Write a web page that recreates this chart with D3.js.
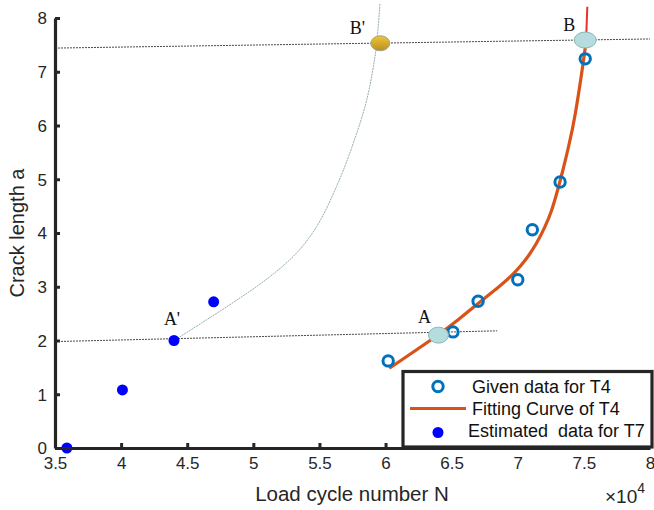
<!DOCTYPE html>
<html><head><meta charset="utf-8">
<script src="https://cdn.jsdelivr.net/npm/d3@7"></script>
<style>body{margin:0;background:#fff}svg{display:block}text{font-family:"Liberation Sans",Arial,Helvetica,sans-serif}</style>
</head><body><svg id="c" width="654" height="510"></svg>
<script>
// ---- data ----
const xTicks = [3.5, 4, 4.5, 5, 5.5, 6, 6.5, 7, 7.5, 8];
const yTicks = [0, 1, 2, 3, 4, 5, 6, 7, 8];
const givenN = [6.02, 6.51, 6.70, 7.00, 7.11, 7.32, 7.51];
const givenA = [1.62, 2.16, 2.73, 3.13, 4.06, 4.95, 7.24];
const fitN = [6.028, 6.20, 6.399, 6.563, 6.714, 6.866, 6.979, 7.068, 7.143, 7.206, 7.257, 7.302, 7.344, 7.382, 7.433, 7.496, 7.516];
const fitA = [1.483, 1.77, 2.102, 2.409, 2.720, 3.010, 3.260, 3.520, 3.805, 4.112, 4.409, 4.800, 5.191, 5.581, 6.140, 7.181, 7.553];
const fitExtN = [7.516, 7.526];
const fitExtA = [7.553, 8.21];
const estN = [3.59, 4.01, 4.40, 4.70];
const estA = [0.0, 1.08, 2.00, 2.72];
const predN = [4.407, 4.874, 5.126, 5.328, 5.479, 5.630, 5.756, 5.857, 5.920, 5.933, 5.958];
const predA = [2.01, 2.75, 3.19, 3.63, 4.12, 4.87, 5.67, 6.47, 7.28, 7.53, 8.27];
const refLowN = [3.5, 6.844];
const refLowA = [1.98, 2.18];
const refHighN = [3.5, 8.0];
const refHighA = [7.44, 7.61];
const pointLabels = ["A'", "A", "B'", "B"];
const pointN = [4.40, 6.40, 5.96, 7.51];
const pointA = [2.00, 2.10, 7.53, 7.59];
const legendLabels = ["Given data for T4", "Fitting Curve of T4", "Estimated  data for T7"];

// ---- drawing ----
const svg = d3.select("#c");
const x = d3.scaleLinear().domain([3.5, 8]).range([55, 650]);
const y = d3.scaleLinear().domain([0, 8]).range([448, 18]);
const axisColor = "#262626";
const zip = (a, b) => a.map((v, i) => [v, b[i]]);
const straight = d3.line().x(d => x(d[0])).y(d => y(d[1]));
const smooth = d3.line().x(d => x(d[0])).y(d => y(d[1])).curve(d3.curveCatmullRom.alpha(0.5));
const basis = d3.line().x(d => x(d[0])).y(d => y(d[1])).curve(d3.curveBasis);

// reference dashed lines
[[refHighN, refHighA], [refLowN, refLowA]].forEach(([n, a]) => {
  svg.append("path").attr("d", straight(zip(n, a)))
    .attr("fill", "none").attr("stroke", "#333").attr("stroke-width", 0.9)
    .attr("stroke-dasharray", "2,1");
});

// predicted T7 curve
svg.append("path").attr("d", smooth(zip(predN, predA)))
  .attr("fill", "none").attr("stroke", "#93aeb2").attr("stroke-width", 1)
  .attr("stroke-dasharray", "2,0.8");

// fitting curve
svg.append("path").attr("d", basis(zip(fitN, fitA)))
  .attr("fill", "none").attr("stroke", "#D95319").attr("stroke-width", 3.2);
svg.append("path").attr("d", straight(zip(fitExtN, fitExtA)))
  .attr("fill", "none").attr("stroke", "#e8322c").attr("stroke-width", 2);

// given data (open circles)
svg.append("g").selectAll("circle").data(zip(givenN, givenA)).join("circle")
  .attr("cx", d => x(d[0])).attr("cy", d => y(d[1])).attr("r", 5.2)
  .attr("fill", "none").attr("stroke", "#0072BD").attr("stroke-width", 3);

// estimated T7 (filled dots)
svg.append("g").selectAll("circle").data(zip(estN, estA)).join("circle")
  .attr("cx", d => x(d[0])).attr("cy", d => y(d[1])).attr("r", 5.5)
  .attr("fill", "#0000FF");

// special points
const defs = svg.append("defs");
const gr = defs.append("linearGradient").attr("id", "gold").attr("x1", 0).attr("y1", 0).attr("x2", 0).attr("y2", 1);
gr.append("stop").attr("offset", "0%").attr("stop-color", "#f2c437");
gr.append("stop").attr("offset", "100%").attr("stop-color", "#b98f22");
const markerStyle = [
  {rx: 4, ry: 4, fill: "#0000FF", stroke: "none"},
  {rx: 10, ry: 8, fill: "#b5dde0", stroke: "#8fb5b8"},
  {rx: 9.5, ry: 7.5, fill: "url(#gold)", stroke: "#9aa58a"},
  {rx: 11, ry: 8, fill: "#b5dde0", stroke: "#8fb5b8"}
];
const labelOff = [[-2, -16], [-14, -12], [-23, -9], [-16, -9]];
pointLabels.forEach((lab, i) => {
  if (i > 0) {
    svg.append("ellipse").attr("cx", x(pointN[i])).attr("cy", y(pointA[i]))
      .attr("rx", markerStyle[i].rx).attr("ry", markerStyle[i].ry)
      .attr("fill", markerStyle[i].fill).attr("stroke", markerStyle[i].stroke).attr("stroke-width", 1);
  }
  svg.append("text").attr("x", x(pointN[i]) + labelOff[i][0]).attr("y", y(pointA[i]) + labelOff[i][1])
    .attr("text-anchor", "middle")
    .style("font-family", "'Liberation Serif','Times New Roman',serif").style("font-size", "18px")
    .attr("fill", "#111").text(lab);
});

// axes
const xAxis = svg.append("g").attr("transform", `translate(0,${y(0)})`)
  .call(d3.axisBottom(x).tickValues(xTicks).tickFormat(d => String(d)).tickSizeInner(-5).tickSizeOuter(0).tickPadding(9));
const yAxis = svg.append("g").attr("transform", `translate(${x(3.5)},0)`)
  .call(d3.axisLeft(y).tickValues(yTicks).tickFormat(d => String(d)).tickSizeInner(-5).tickSizeOuter(0).tickPadding(8));
[xAxis, yAxis].forEach(g => {
  g.select(".domain").attr("stroke", axisColor).attr("stroke-width", 3.2);
  g.selectAll(".tick line").attr("stroke", axisColor).attr("stroke-width", 3);
  g.selectAll(".tick text").attr("fill", axisColor).style("font-size", "17px");
});
yAxis.selectAll(".tick text").attr("dy", "0.35em");

// axis titles
svg.append("text").attr("x", 352).attr("y", 501).attr("text-anchor", "middle")
  .style("font-size", "20.5px").attr("fill", axisColor).text("Load cycle number N");
svg.append("text").attr("transform", "translate(24,233) rotate(-90)").attr("text-anchor", "middle")
  .style("font-size", "20px").attr("fill", axisColor).text("Crack length a");
const ex = svg.append("text").attr("x", 605).attr("y", 503).style("font-size", "19px").attr("fill", axisColor);
ex.append("tspan").text("\u00d710");
ex.append("tspan").attr("dy", -10).style("font-size", "14px").text("4");

// legend
const lg = svg.append("g");
lg.append("rect").attr("x", 403).attr("y", 371.5).attr("width", 249).attr("height", 75.5)
  .attr("fill", "#fff").attr("stroke", axisColor).attr("stroke-width", 3.2);
lg.append("circle").attr("cx", 438).attr("cy", 386.5).attr("r", 5.2)
  .attr("fill", "none").attr("stroke", "#0072BD").attr("stroke-width", 3);
lg.append("line").attr("x1", 410).attr("x2", 466).attr("y1", 408.5).attr("y2", 408.5)
  .attr("stroke", "#D95319").attr("stroke-width", 3.2);
lg.append("circle").attr("cx", 438).attr("cy", 432.5).attr("r", 5.5).attr("fill", "#0000FF");
const lx = [472, 472, 468], ly = [393, 415, 437];
legendLabels.forEach((t, i) => {
  lg.append("text").attr("x", lx[i]).attr("y", ly[i]).style("font-size", "18px")
    .style("white-space", "pre").attr("xml:space", "preserve").attr("fill", "#111").text(t);
});
</script></body></html>
